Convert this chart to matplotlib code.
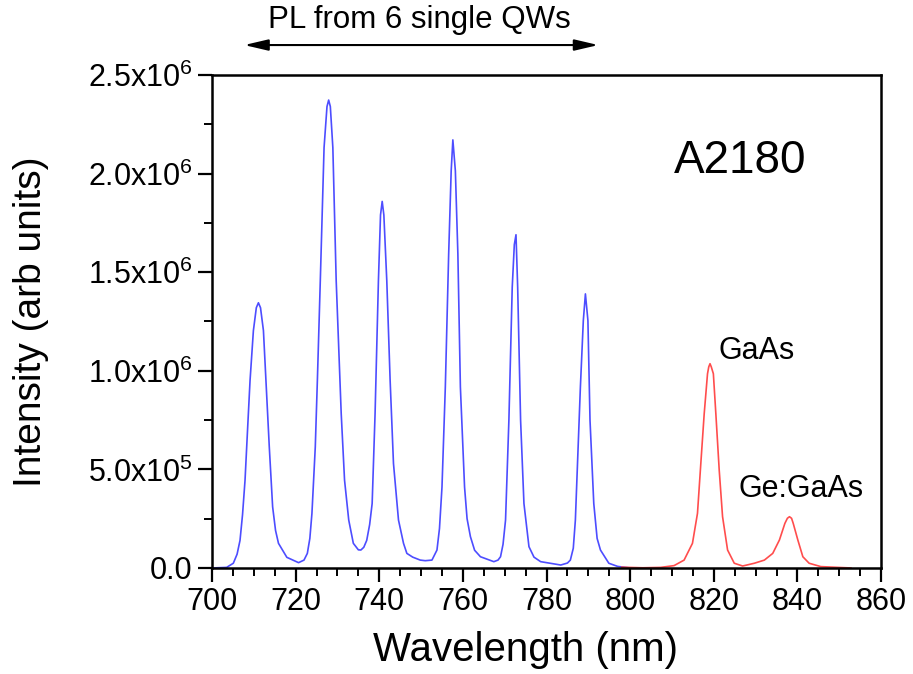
import matplotlib
matplotlib.use("Agg")
import matplotlib.pyplot as plt
from matplotlib.ticker import MultipleLocator
import numpy as np

plt.rcParams['font.family'] = ['Liberation Sans', 'DejaVu Sans']
plt.rcParams['mathtext.fontset'] = 'custom'
plt.rcParams['mathtext.rm'] = 'Liberation Sans'
plt.rcParams['mathtext.default'] = 'regular'

# quantum well emission (blue), wavelength in nm, intensity in units of 1e6
qw_wl = [700.0, 703.5, 705.1, 706.0, 706.7, 707.3, 707.9, 708.5, 709.1, 709.9,
         710.6, 711.1, 711.6, 712.3, 712.9, 713.7, 714.5, 715.2, 715.9, 717.9,
         720.7, 722.0, 722.8, 723.4, 723.9, 724.7, 725.2, 725.9, 726.8, 727.5,
         727.9, 728.3, 728.9, 729.7, 730.3, 730.9, 731.7, 732.7, 733.8, 735.0,
         735.6, 736.3, 737.0, 737.7, 738.3, 739.0, 739.8, 740.3, 740.7, 741.1,
         741.8, 742.6, 743.4, 744.6, 745.8, 746.6, 748.0, 749.8, 751.0, 752.6,
         753.8, 754.4, 755.0, 755.8, 756.6, 757.2, 757.6, 758.2, 758.8, 759.4,
         760.4, 761.0, 761.8, 762.8, 764.2, 767.4, 768.4, 769.0, 769.6, 770.2,
         771.0, 771.8, 772.3, 772.7, 773.1, 773.8, 774.6, 775.8, 777.0, 778.6,
         783.4, 785.0, 785.7, 786.4, 786.9, 788.1, 788.8, 789.3, 789.9, 790.4,
         791.3, 792.1, 792.9, 794.9, 797.0, 800.0]
qw_int = [0.0, 0.003, 0.024, 0.07, 0.14, 0.27, 0.445, 0.70, 0.951, 1.204,
          1.32, 1.345, 1.32, 1.204, 0.951, 0.614, 0.31, 0.19, 0.125, 0.054,
          0.027, 0.04, 0.074, 0.15, 0.277, 0.614, 0.951, 1.457, 2.132, 2.34,
          2.373, 2.34, 2.132, 1.457, 1.12, 0.783, 0.445, 0.243, 0.125, 0.092,
          0.091, 0.105, 0.14, 0.22, 0.327, 0.783, 1.457, 1.79, 1.859, 1.79,
          1.457, 0.951, 0.53, 0.243, 0.125, 0.074, 0.055, 0.04, 0.037, 0.04,
          0.091, 0.2, 0.41, 0.918, 1.593, 2.014, 2.171, 2.014, 1.593, 0.918,
          0.41, 0.25, 0.159, 0.09, 0.057, 0.032, 0.04, 0.057, 0.12, 0.243,
          0.749, 1.424, 1.64, 1.690, 1.424, 0.749, 0.327, 0.108, 0.055, 0.032,
          0.015, 0.025, 0.04, 0.1, 0.243, 0.918, 1.255, 1.39, 1.255, 0.749,
          0.327, 0.15, 0.091, 0.024, 0.008, 0.0]

# substrate emission (red): GaAs band edge and Ge acceptor line
sub_wl = [798.0, 803.0, 807.3, 810.5, 812.9, 814.9, 816.1, 816.9, 817.7, 818.5, 818.8,
          819.1, 819.4, 819.9, 820.5, 821.3, 822.1, 823.3, 824.9, 826.9, 829.7, 832.1,
          834.1, 835.7, 837.0, 837.6, 838.1, 838.6, 839.0, 840.1, 841.3, 842.8, 845.6,
          852.8]
sub_int = [0.004, 0.001, 0.003, 0.012, 0.04, 0.125, 0.277, 0.53, 0.78, 0.985, 1.02,
           1.036, 1.02, 0.985, 0.78, 0.496, 0.26, 0.091, 0.024, 0.01, 0.024, 0.04,
           0.074, 0.142, 0.226, 0.252, 0.26, 0.252, 0.226, 0.142, 0.057, 0.024, 0.007,
           0.0]

y_ticks = [0.0, 0.5e6, 1.0e6, 1.5e6, 2.0e6, 2.5e6]
y_tick_labels = ['0.0', '5.0x10$^5$', '1.0x10$^6$', '1.5x10$^6$', '2.0x10$^6$', '2.5x10$^6$']
x_ticks = [700, 720, 740, 760, 780, 800, 820, 840, 860]

fig = plt.figure(figsize=(9.13, 6.74), dpi=100)
ax = fig.add_axes([0.2322, 0.1573, 0.7328, 0.7314])

ax.plot(qw_wl, np.array(qw_int) * 1e6, color='#4d4dff', lw=1.2)
ax.plot(sub_wl, np.array(sub_int) * 1e6, color='#ff4d4d', lw=1.2)

ax.set_xlim(700, 860)
ax.set_ylim(0, 2.5e6)
ax.set_xticks(x_ticks)
ax.set_xticklabels([str(t) for t in x_ticks])
ax.xaxis.set_minor_locator(MultipleLocator(5))
ax.set_yticks(y_ticks)
ax.set_yticklabels(y_tick_labels)
ax.yaxis.set_minor_locator(MultipleLocator(0.25e6))

for s in ax.spines.values():
    s.set_linewidth(1.8)
ax.tick_params(which='major', direction='out', length=10, width=1.6, labelsize=22, pad=4)
ax.tick_params(which='minor', direction='out', length=6, width=1.4)
ax.tick_params(top=False, right=False)

ax.set_xlabel('Wavelength (nm)', fontsize=29)
ax.xaxis.set_label_coords(0.468, -0.128)
ax.set_ylabel('Intensity (arb units)', fontsize=28)
ax.yaxis.set_label_coords(-0.243, 0.5)

ax.text(810.4, 2.004e6, 'A2180', fontsize=33, ha='left', va='baseline')
ax.text(821.2, 1.058e6, 'GaAs', fontsize=22, ha='left', va='baseline')
ax.text(826.0, 0.359e6, 'Ge:GaAs', fontsize=22, ha='left', va='baseline')

ax.annotate('', xy=(707.7, 2.652e6), xytext=(792.4, 2.652e6),
            arrowprops=dict(arrowstyle='<|-|>,head_length=1.2,head_width=0.28',
                            mutation_scale=12, lw=1.5, color='black',
                            shrinkA=0, shrinkB=0),
            annotation_clip=False)
ax.text(749.5, 2.74e6, 'PL from 6 single QWs', fontsize=22.5, ha='center', va='baseline')

fig.savefig('out.png', dpi=100)
